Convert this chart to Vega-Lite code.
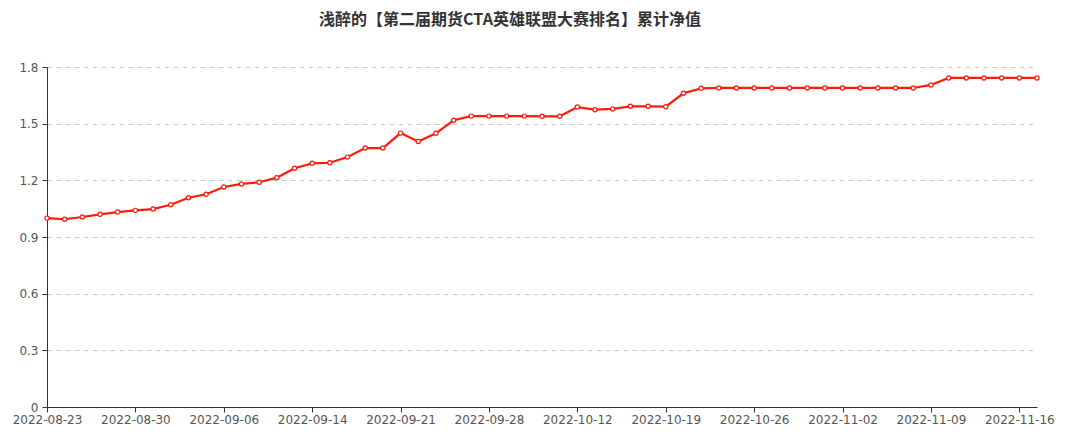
{
  "$schema": "https://vega.github.io/schema/vega-lite/v6.json",
  "width": 990,
  "height": 340,
  "autosize": {"type": "none"},
  "padding": {"left": 47, "top": 67, "right": 31, "bottom": 29},
  "background": "#ffffff",
  "title": {
    "text": "浅醉的【第二届期货CTA英雄联盟大赛排名】累计净值",
    "font": "Noto Sans CJK SC",
    "fontSize": 16,
    "fontWeight": "bold",
    "color": "#333333",
    "anchor": "middle",
    "frame": "group",
    "dx": -32,
    "offset": 33
  },
  "config": {
    "view": {"stroke": null},
    "axis": {"labelFont": "DejaVu Sans", "labelFontSize": 12, "labelColor": "#555555"}
  },
  "data": {
    "values": [
      {"date": "2022-08-23", "v": 1.000},
      {"date": "2022-08-24", "v": 0.994},
      {"date": "2022-08-25", "v": 1.006},
      {"date": "2022-08-26", "v": 1.020},
      {"date": "2022-08-29", "v": 1.032},
      {"date": "2022-08-30", "v": 1.041},
      {"date": "2022-08-31", "v": 1.048},
      {"date": "2022-09-01", "v": 1.071},
      {"date": "2022-09-02", "v": 1.108},
      {"date": "2022-09-05", "v": 1.126},
      {"date": "2022-09-06", "v": 1.165},
      {"date": "2022-09-07", "v": 1.181},
      {"date": "2022-09-08", "v": 1.190},
      {"date": "2022-09-09", "v": 1.214},
      {"date": "2022-09-13", "v": 1.264},
      {"date": "2022-09-14", "v": 1.290},
      {"date": "2022-09-15", "v": 1.293},
      {"date": "2022-09-16", "v": 1.323},
      {"date": "2022-09-19", "v": 1.371},
      {"date": "2022-09-20", "v": 1.371},
      {"date": "2022-09-21", "v": 1.450},
      {"date": "2022-09-22", "v": 1.406},
      {"date": "2022-09-23", "v": 1.449},
      {"date": "2022-09-26", "v": 1.518},
      {"date": "2022-09-27", "v": 1.540},
      {"date": "2022-09-28", "v": 1.540},
      {"date": "2022-09-29", "v": 1.540},
      {"date": "2022-09-30", "v": 1.540},
      {"date": "2022-10-10", "v": 1.539},
      {"date": "2022-10-11", "v": 1.539},
      {"date": "2022-10-12", "v": 1.588},
      {"date": "2022-10-13", "v": 1.574},
      {"date": "2022-10-14", "v": 1.578},
      {"date": "2022-10-17", "v": 1.592},
      {"date": "2022-10-18", "v": 1.592},
      {"date": "2022-10-19", "v": 1.590},
      {"date": "2022-10-20", "v": 1.661},
      {"date": "2022-10-21", "v": 1.687},
      {"date": "2022-10-24", "v": 1.689},
      {"date": "2022-10-25", "v": 1.689},
      {"date": "2022-10-26", "v": 1.689},
      {"date": "2022-10-27", "v": 1.689},
      {"date": "2022-10-28", "v": 1.689},
      {"date": "2022-10-31", "v": 1.689},
      {"date": "2022-11-01", "v": 1.689},
      {"date": "2022-11-02", "v": 1.689},
      {"date": "2022-11-03", "v": 1.689},
      {"date": "2022-11-04", "v": 1.689},
      {"date": "2022-11-07", "v": 1.689},
      {"date": "2022-11-08", "v": 1.689},
      {"date": "2022-11-09", "v": 1.705},
      {"date": "2022-11-10", "v": 1.742},
      {"date": "2022-11-11", "v": 1.742},
      {"date": "2022-11-14", "v": 1.742},
      {"date": "2022-11-15", "v": 1.742},
      {"date": "2022-11-16", "v": 1.742},
      {"date": "2022-11-17", "v": 1.742}
    ]
  },
  "encoding": {
    "x": {
      "field": "date",
      "type": "ordinal",
      "scale": {"type": "point", "padding": 0},
      "axis": {
        "title": null,
        "labelAngle": 0,
        "values": ["2022-08-23", "2022-08-30", "2022-09-06", "2022-09-14", "2022-09-21", "2022-09-28", "2022-10-12", "2022-10-19", "2022-10-26", "2022-11-02", "2022-11-09", "2022-11-16"],
        "domainColor": "#333333",
        "tickColor": "#333333",
        "tickSize": 5,
        "labelPadding": 2,
        "grid": false
      }
    },
    "y": {
      "field": "v",
      "type": "quantitative",
      "scale": {"domain": [0, 1.8], "nice": false, "zero": true},
      "axis": {
        "title": null,
        "values": [0, 0.3, 0.6, 0.9, 1.2, 1.5, 1.8],
        "labelExpr": "datum.value == 0 ? '0' : format(datum.value, '.1f')",
        "domainColor": "#333333",
        "tickColor": "#333333",
        "tickSize": 5,
        "labelPadding": 4,
        "grid": true,
        "gridColor": "#cccccc",
        "gridDash": [5, 4],
        "gridWidth": 1
      }
    }
  },
  "layer": [
    {
      "mark": {"type": "line", "color": "#ff1a0a", "strokeWidth": 2.2, "interpolate": "linear"}
    },
    {
      "mark": {"type": "point", "filled": true, "fill": "#ffffff", "stroke": "#ff1a0a", "strokeWidth": 1.2, "size": 18, "opacity": 1}
    }
  ]
}
